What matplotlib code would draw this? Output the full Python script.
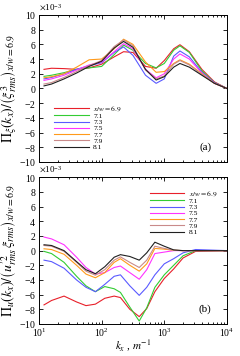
import numpy as np
import matplotlib
matplotlib.use("Agg")
import matplotlib.pyplot as plt
from matplotlib.ticker import ScalarFormatter, MultipleLocator, LogLocator, NullFormatter

plt.rcParams['font.family'] = ['Liberation Serif', 'DejaVu Serif']
plt.rcParams['mathtext.fontset'] = 'stix'

labels = [r'$x/w=6.9$', '7.1', '7.3', '7.5', '7.7', '7.9', '8.1']
colors = ['#e8202a', '#33cc33', '#5a5aff', '#ff33ff', '#ff9a1a', '#c98a8a', '#202020']

# top panel: Pi_xi (x 1e-3), log10(kx) sample positions
logk_top = [1.08, 1.2, 1.4, 1.6, 1.8, 2.0, 2.2, 2.35, 2.5, 2.7, 2.87, 3.0, 3.15, 3.25, 3.4, 3.6, 3.8, 4.0]
pxi = [
    [2.6, 2.75, 2.7, 2.6, 2.8, 3.3, 4.3, 5.0, 4.9, 3.0, 2.75, 3.8, 5.4, 5.95, 5.0, 2.6, 0.9, 0.0],
    [1.65, 1.8, 2.15, 2.6, 2.8, 3.0, 4.6, 5.9, 5.2, 3.4, 2.8, 3.4, 5.2, 5.8, 4.9, 2.4, 0.8, 0.0],
    [1.3, 1.5, 2.0, 2.6, 3.1, 3.5, 4.9, 5.65, 4.5, 1.8, 0.7, 1.3, 4.4, 5.1, 4.3, 2.2, 0.8, 0.0],
    [1.1, 1.3, 1.8, 2.5, 3.2, 3.6, 5.0, 6.1, 5.4, 2.6, 1.45, 2.0, 4.0, 4.7, 4.0, 2.1, 0.7, 0.0],
    [1.45, 1.6, 2.0, 2.9, 3.9, 4.0, 5.4, 6.7, 6.0, 3.6, 2.2, 2.3, 3.4, 3.9, 3.3, 2.0, 0.7, 0.0],
    [0.6, 0.8, 1.5, 2.3, 3.1, 3.8, 5.7, 6.6, 5.8, 2.5, 1.3, 1.7, 3.3, 3.8, 3.2, 1.9, 0.7, 0.0],
    [0.35, 0.6, 1.3, 2.1, 3.0, 3.7, 5.5, 6.4, 5.6, 2.6, 1.15, 1.6, 2.9, 3.4, 2.9, 1.8, 0.7, 0.0],
]

# bottom panel: Pi_u (x 1e-3)
logk_bot = [1.08, 1.2, 1.4, 1.6, 1.75, 1.9, 2.05, 2.2, 2.3, 2.45, 2.6, 2.72, 2.85, 3.0, 3.15, 3.3, 3.5, 4.0]
pu = [
    [-7.4, -6.8, -6.2, -7.0, -7.5, -7.3, -6.5, -6.2, -6.4, -8.0, -9.0, -7.9, -5.6, -3.8, -2.5, -1.0, -0.1, 0.0],
    [-0.1, -0.4, -1.6, -3.5, -4.8, -5.6, -4.9, -5.2, -5.7, -7.7, -9.6, -7.8, -5.0, -3.3, -2.0, -0.7, 0.0, 0.0],
    [-1.3, -1.5, -2.4, -4.0, -5.0, -5.6, -4.6, -3.5, -3.3, -4.8, -6.1, -5.0, -3.3, -1.8, -1.1, -0.3, 0.15, 0.0],
    [1.85, 1.6, 0.8, -0.9, -2.3, -3.2, -3.0, -2.3, -2.1, -3.0, -3.9, -2.6, -0.4, -0.2, 0.0, 0.0, 0.0, 0.0],
    [0.25, 0.15, -0.5, -2.0, -3.2, -3.7, -3.0, -1.6, -1.1, -2.0, -2.8, -1.8, 0.3, 0.2, 0.05, 0.0, 0.0, 0.0],
    [0.7, 0.6, -0.1, -1.6, -2.8, -3.35, -2.6, -1.3, -0.85, -1.6, -2.3, -1.3, 0.6, 0.3, 0.05, 0.0, 0.0, 0.0],
    [0.8, 0.7, 0.0, -1.5, -2.6, -3.15, -2.2, -0.9, -0.55, -0.8, -1.3, -0.3, 1.15, 0.6, 0.1, 0.0, 0.0, 0.0],
]

fig = plt.figure(figsize=(2.4, 3.56), dpi=100)
ax1 = fig.add_axes([0.1625, 0.545, 0.783, 0.413])
ax2 = fig.add_axes([0.1625, 0.09, 0.783, 0.412])

def style(ax):
    ax.set_xscale('log')
    ax.set_xlim(10, 1e4)
    ax.set_ylim(-10e-3, 10e-3)
    ax.yaxis.set_major_locator(MultipleLocator(2e-3))
    fmt = ScalarFormatter(useMathText=True)
    fmt.set_powerlimits((-3, -3))
    ax.yaxis.set_major_formatter(fmt)
    ax.yaxis.get_offset_text().set_fontsize(6.5)
    ax.xaxis.set_major_locator(LogLocator(base=10, numticks=10))
    ax.xaxis.set_minor_locator(LogLocator(base=10, subs=np.arange(2, 10), numticks=20))
    ax.xaxis.set_minor_formatter(NullFormatter())
    ax.tick_params(which='both', direction='in', top=True, right=True, labelsize=7, width=0.6)
    ax.tick_params(which='major', length=3)
    ax.tick_params(which='minor', length=1.5)
    ax.tick_params(axis='y', which='major', pad=2)
    ax.tick_params(axis='x', which='major', pad=2)
    for s in ax.spines.values():
        s.set_linewidth(0.7)

k_top = [10 ** v for v in logk_top]
k_bot = [10 ** v for v in logk_bot]
for i in range(7):
    ax1.plot(k_top, np.array(pxi[i]) * 1e-3, color=colors[i], lw=0.8, label=labels[i])
    ax2.plot(k_bot, np.array(pu[i]) * 1e-3, color=colors[i], lw=0.8, label=labels[i])

style(ax1)
style(ax2)
ax1.tick_params(labelbottom=False)

ax1.set_ylabel(r'$\Pi_\xi\left(k_x\right)/\left(\xi_{rms}^{3}\right)_{x/w=6.9}$', fontsize=10, labelpad=0)
ax2.set_ylabel(r"$\Pi_u\left(k_x\right)/\left(u_{rms}^{\prime 2}\,\xi_{rms}\right)_{x/w=6.9}$", fontsize=10, labelpad=0)
ax2.set_xlabel(r'$k_x$ , $m^{-1}$', fontsize=8, labelpad=0)

ax1.text(0.885, 0.1, '(a)', transform=ax1.transAxes, fontsize=8, ha='center', va='center')
ax2.text(0.885, 0.1, '(b)', transform=ax2.transAxes, fontsize=8, ha='center', va='center')

leg1 = ax1.legend(loc='lower left', bbox_to_anchor=(0.08, 0.08), frameon=False, fontsize=5.4,
                  handlelength=4.6, handletextpad=0.6, labelspacing=0.0, borderaxespad=0.0,
                  borderpad=0.0)
leg2 = ax2.legend(loc='upper right', bbox_to_anchor=(0.95, 0.92), frameon=False, fontsize=5.4,
                  handlelength=4.6, handletextpad=0.6, labelspacing=0.0, borderaxespad=0.0,
                  borderpad=0.0)

fig.savefig('out.png', dpi=100)
